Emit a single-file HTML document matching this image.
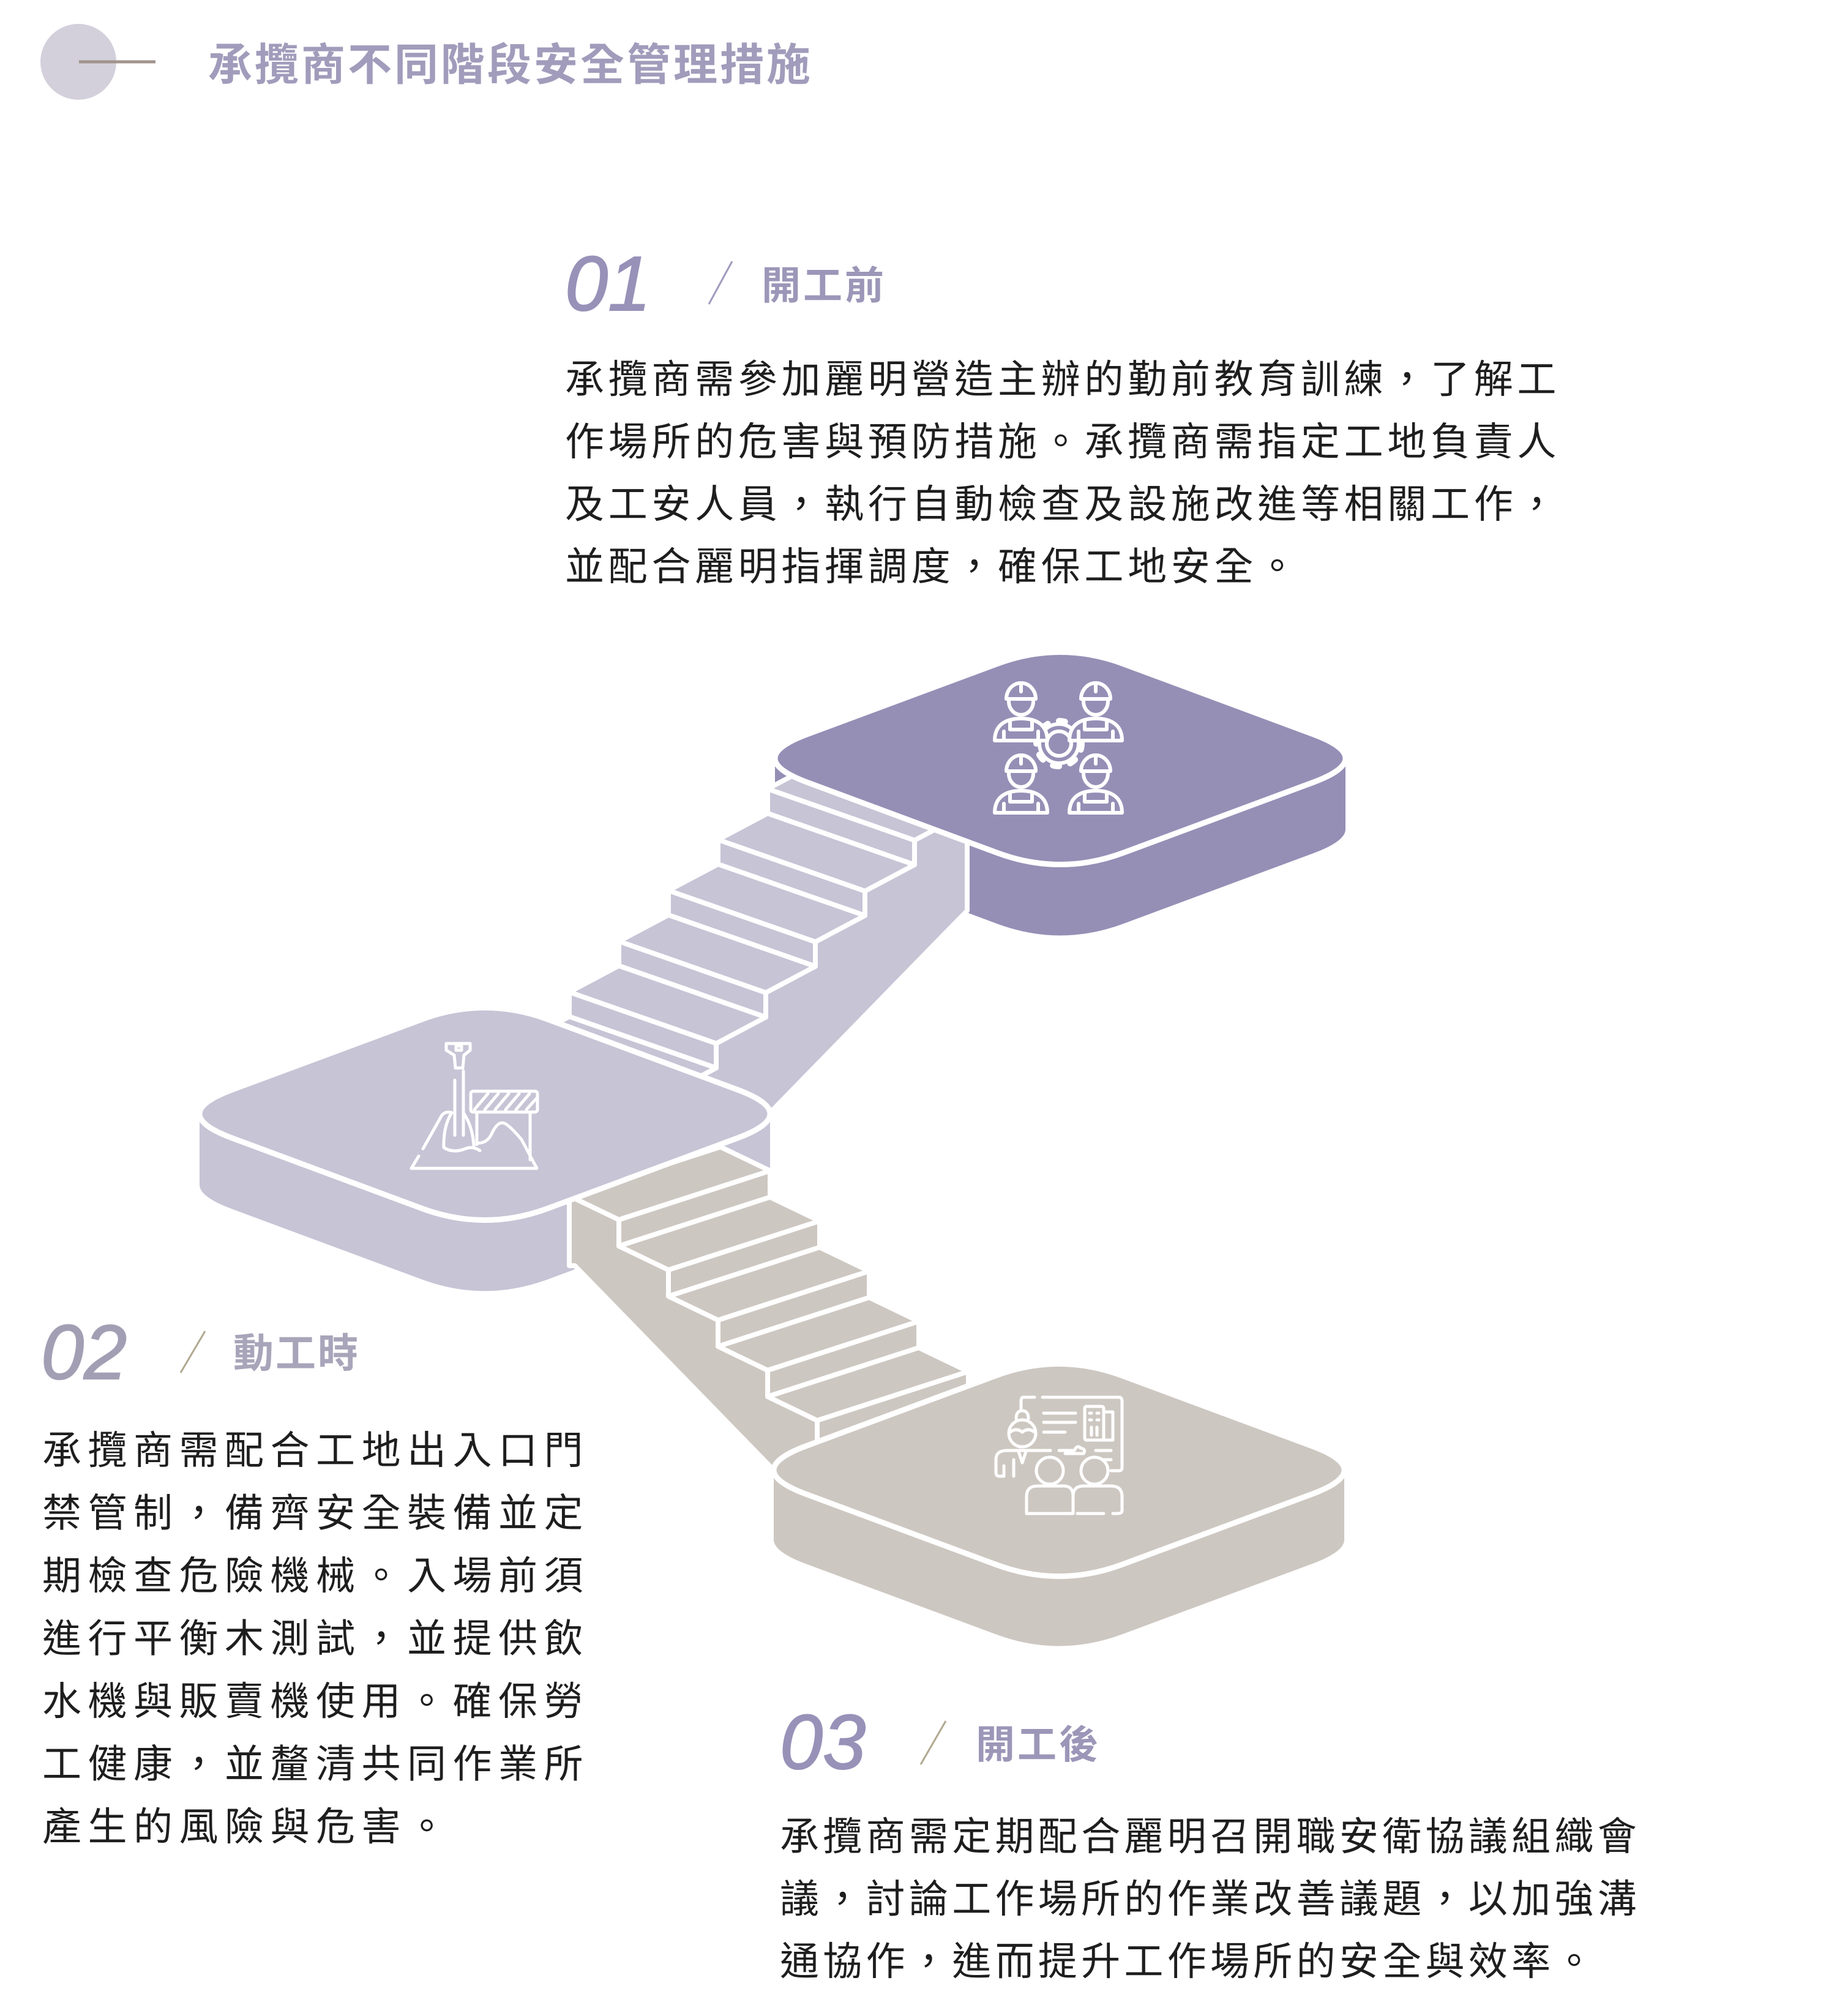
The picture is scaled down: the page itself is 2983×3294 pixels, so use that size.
<!DOCTYPE html>
<html><head><meta charset="utf-8"><style>
html,body{margin:0;padding:0;background:#fff;}
svg{display:block;}
.cjk{font-family:"Liberation Sans","Noto Sans CJK TC",sans-serif;}
</style></head><body>
<svg width="2983" height="3294" viewBox="0 0 2983 3294" xmlns="http://www.w3.org/2000/svg">
<defs>
<path id="pf" d="M -414,-39 L -104,-154 Q 0,-193 104,-154 L 414,-39 Q 518,0 414,39 L 104,154 Q 0,193 -104,154 L -414,39 Q -518,0 -414,-39 Z"/>
</defs>

<!-- header -->
<circle cx="128" cy="101" r="62" fill="#d3d0dc"/>
<line x1="129" y1="101" x2="254" y2="101" stroke="#a0948c" stroke-width="5"/>
<text x="340" y="131" class="cjk" font-size="72" font-weight="bold" fill="#a19cbb" letter-spacing="4">承攬商不同階段安全管理措施</text>

<!-- 01 -->
<text x="923" y="507" font-family="Liberation Sans" font-style="italic" font-size="126" fill="#9891b8" stroke="#9891b8" stroke-width="2">01</text>
<line x1="1196" y1="427" x2="1158" y2="497" stroke="#a09bbf" stroke-width="3"/>
<text x="1244" y="489" class="cjk" font-size="64" font-weight="bold" fill="#9c97b8" letter-spacing="4">開工前</text>
<g class="cjk" font-size="64" fill="#1e1e1e" letter-spacing="6.7">
<text x="923" y="642">承攬商需參加麗明營造主辦的勤前教育訓練，了解工</text>
<text x="923" y="744">作場所的危害與預防措施。承攬商需指定工地負責人</text>
<text x="923" y="846">及工安人員，執行自動檢查及設施改進等相關工作，</text>
<text x="923" y="948">並配合麗明指揮調度，確保工地安全。</text>
</g>

<!-- 02 -->
<text x="67" y="2253" font-family="Liberation Sans" font-style="italic" font-size="126" fill="#a29fb4" stroke="#a29fb4" stroke-width="2">02</text>
<line x1="335" y1="2175" x2="295" y2="2243" stroke="#b0a890" stroke-width="3"/>
<text x="381" y="2234" class="cjk" font-size="66" font-weight="bold" fill="#a8a5ba" letter-spacing="3">動工時</text>
<g class="cjk" font-size="64" fill="#1e1e1e" letter-spacing="10.5">
<text x="69" y="2392">承攬商需配合工地出入口門</text>
<text x="69" y="2494.5">禁管制，備齊安全裝備並定</text>
<text x="69" y="2597">期檢查危險機械。入場前須</text>
<text x="69" y="2699.5">進行平衡木測試，並提供飲</text>
<text x="69" y="2802">水機與販賣機使用。確保勞</text>
<text x="69" y="2904.5">工健康，並釐清共同作業所</text>
<text x="69" y="3007">產生的風險與危害。</text>
</g>

<!-- 03 -->
<text x="1274" y="2890" font-family="Liberation Sans" font-style="italic" font-size="126" fill="#9891b8" stroke="#9891b8" stroke-width="2">03</text>
<line x1="1545" y1="2812" x2="1504" y2="2883" stroke="#b0a890" stroke-width="3"/>
<text x="1594" y="2873" class="cjk" font-size="64" font-weight="bold" fill="#9c97b8" letter-spacing="4">開工後</text>
<g class="cjk" font-size="64" fill="#1e1e1e" letter-spacing="6.3">
<text x="1274" y="3023">承攬商需定期配合麗明召開職安衛協議組織會</text>
<text x="1274" y="3125">議，討論工作場所的作業改善議題，以加強溝</text>
<text x="1274" y="3227">通協作，進而提升工作場所的安全與效率。</text>
</g>

<!-- TOP PLATFORM -->
<g transform="translate(1732,1239)" fill="#958fb6">
<use href="#pf" transform="translate(0,116)"/>
<rect x="-466" y="0" width="932" height="116"/>
<use href="#pf" stroke="#fff" stroke-width="9"/>
</g>

<!-- UPPER STAIR -->
<g fill="#c6c4d5" stroke="#fff" stroke-width="8" stroke-linejoin="round">
<polygon points="1335,1246 1575,1330 1580,1333 1580,1488 1262,1814 849,1744"/>
<polygon points="1335,1246 1575,1330 1494,1373 1254,1289"/>
<polygon points="1254,1289 1494,1373 1494,1413 1254,1329"/>
<polygon points="1254,1329 1494,1413 1413,1456 1173,1372"/>
<polygon points="1173,1372 1413,1456 1413,1496 1173,1412"/>
<polygon points="1173,1412 1413,1496 1332,1539 1092,1455"/>
<polygon points="1092,1455 1332,1539 1332,1579 1092,1495"/>
<polygon points="1092,1495 1332,1579 1251,1622 1011,1538"/>
<polygon points="1011,1538 1251,1622 1251,1662 1011,1578"/>
<polygon points="1011,1578 1251,1662 1170,1705 930,1621"/>
<polygon points="930,1621 1170,1705 1170,1745 930,1661"/>
<polygon points="930,1661 1170,1745 1089,1788 849,1704"/>
<polygon points="849,1704 1089,1788 1089,1828 849,1744"/>
</g>
<use href="#pf" transform="translate(1732,1239)" fill="#958fb6" stroke="#fff" stroke-width="9"/>

<!-- MIDDLE PLATFORM -->
<g transform="translate(792,1820)" fill="#c6c4d5">
<use href="#pf" transform="translate(0,116)"/>
<rect x="-466" y="0" width="932" height="116"/>
<use href="#pf" stroke="#fff" stroke-width="9"/>
</g>

<!-- LOWER STAIR -->
<g fill="#cdc7c1" stroke="#fff" stroke-width="8" stroke-linejoin="round">
<polygon points="930,1954 1177,1874 1258,1913 1258,1956 1339,1995 1339,2038 1420,2077 1420,2120 1501,2159 1501,2202 1582,2241 1582,2284 1262,2400 939,2068 930,2068"/>
<polygon points="930,1954 1177,1874 1258,1913 1011,1993"/>
<polygon points="1011,1993 1258,1913 1258,1956 1011,2036"/>
<polygon points="1011,2036 1258,1956 1339,1995 1092,2075"/>
<polygon points="1092,2075 1339,1995 1339,2038 1092,2118"/>
<polygon points="1092,2118 1339,2038 1420,2077 1173,2157"/>
<polygon points="1173,2157 1420,2077 1420,2120 1173,2200"/>
<polygon points="1173,2200 1420,2120 1501,2159 1254,2239"/>
<polygon points="1254,2239 1501,2159 1501,2202 1254,2282"/>
<polygon points="1254,2282 1501,2202 1582,2241 1335,2321"/>
<polygon points="1335,2321 1582,2241 1582,2284 1335,2364"/>
</g>
<use href="#pf" transform="translate(792,1820)" fill="#c6c4d5" stroke="#fff" stroke-width="9"/>

<!-- BOTTOM PLATFORM -->
<g transform="translate(1730,2402)" fill="#cdc7c1">
<use href="#pf" transform="translate(0,114)"/>
<rect x="-466" y="0" width="932" height="114"/>
<use href="#pf" stroke="#fff" stroke-width="9"/>
</g>

<!-- ICON TOP: workers + gear -->
<g fill="none" stroke="#fff" stroke-width="6" stroke-linecap="round" stroke-linejoin="round">
<circle cx="1730" cy="1215" r="37" stroke-width="10" stroke-dasharray="10 19"/>
<circle cx="1730" cy="1215" r="32" fill="#958fb6"/>
<circle cx="1730" cy="1215" r="20"/>
<g id="wk">
<path d="M1644,1142 A24,26 0 0 1 1692,1142 Z" fill="#958fb6"/>
<line x1="1668" y1="1118" x2="1668" y2="1130"/>
<path d="M1648,1146 A20,22 0 0 0 1688,1146"/>
<path d="M1625,1210 C1625,1185 1642,1174 1668,1174 C1694,1174 1711,1185 1711,1210 Z" fill="#958fb6"/>
<path d="M1650,1178 L1650,1192 L1686,1192 L1686,1178"/>
<line x1="1640" y1="1195" x2="1640" y2="1210"/>
<line x1="1696" y1="1195" x2="1696" y2="1210"/>
</g>
<use href="#wk" transform="translate(122,0)"/>
<use href="#wk" transform="translate(0,118)"/>
<use href="#wk" transform="translate(122,118)"/>
</g>

<!-- ICON MIDDLE: shovel + barrier -->
<g fill="none" stroke="#fff" stroke-width="5" stroke-linecap="round" stroke-linejoin="round">
<path d="M672,1909 L877,1909 L852,1862"/>
<line x1="672" y1="1909" x2="684" y2="1889"/>
<path d="M691,1877 L722,1822 Q728,1815 738,1818"/>
<path d="M729,1705 L768,1705 L768,1716 L758,1724 L756,1745 L744,1745 L742,1724 L729,1716 Z"/>
<rect x="745" y="1709" width="9" height="7"/>
<line x1="743" y1="1765" x2="743" y2="1855"/>
<line x1="757" y1="1750" x2="757" y2="1855"/>
<path d="M738,1818 Q724,1840 725,1875 Q740,1885 760,1877 Q772,1872 784,1880"/>
<path d="M757,1818 Q772,1840 774,1872"/>
<rect x="769" y="1783" width="109" height="34" rx="4"/>
<path d="M775,1813 L797,1787 M792,1813 L814,1787 M809,1813 L831,1787 M826,1813 L848,1787 M843,1813 L865,1787 M860,1813 L876,1795"/>
<line x1="779" y1="1817" x2="779" y2="1870"/>
<line x1="866" y1="1817" x2="866" y2="1895"/>
<path d="M779,1868 Q795,1868 802,1855 Q812,1832 823,1835 Q832,1838 852,1862"/>
</g>

<!-- ICON BOTTOM: presentation -->
<g fill="none" stroke="#fff" stroke-width="5" stroke-linecap="round" stroke-linejoin="round">
<path d="M1690,2283 L1672,2283 Q1668,2283 1668,2290 L1668,2305"/>
<path d="M1703,2283 L1828,2283 Q1833,2283 1833,2290 L1833,2398 Q1833,2403 1828,2403 L1815,2403"/>
<line x1="1705" y1="2309" x2="1757" y2="2309"/>
<line x1="1705" y1="2324" x2="1757" y2="2324"/>
<line x1="1705" y1="2340" x2="1740" y2="2340"/>
<rect x="1772" y="2298" width="31" height="55" rx="3"/>
<path d="M1803,2307 L1818,2307 L1818,2353 L1803,2353"/>
<path d="M1780,2309 L1783,2309 M1792,2309 L1795,2309 M1780,2320 L1783,2320 M1792,2320 L1795,2320 M1783,2332 L1783,2345 M1792,2332 L1792,2345"/>
<line x1="1790" y1="2370" x2="1815" y2="2370"/>
<line x1="1790" y1="2385" x2="1815" y2="2385"/>
<path d="M1660,2318 Q1660,2305 1670,2305 Q1680,2305 1680,2318"/>
<circle cx="1670" cy="2342" r="22"/>
<path d="M1650,2340 Q1660,2332 1670,2340 Q1680,2332 1690,2340"/>
<path d="M1640,2412 L1632,2412 Q1627,2412 1627,2405 L1627,2385 Q1627,2370 1645,2370 L1716,2370"/>
<path d="M1730,2370 L1755,2370 Q1760,2360 1765,2366 Q1775,2368 1770,2375 L1740,2375"/>
<path d="M1664,2372 L1670,2390 L1676,2372"/>
<line x1="1640" y1="2395" x2="1640" y2="2412"/>
<line x1="1656" y1="2385" x2="1656" y2="2412"/>
<circle cx="1715" cy="2403" r="22" fill="#cdc7c1"/>
<circle cx="1788" cy="2403" r="22" fill="#cdc7c1"/>
<path d="M1677,2473 L1677,2445 Q1677,2428 1695,2428 L1738,2428 Q1753,2428 1753,2445 L1753,2473 Z" fill="#cdc7c1"/>
<path d="M1753,2473 L1753,2445 Q1753,2428 1770,2428 L1815,2428 Q1833,2428 1833,2445 L1833,2468 Q1833,2473 1826,2473 L1818,2473"/>
<line x1="1760" y1="2473" x2="1803" y2="2473"/>
</g>
</svg>
</body></html>
